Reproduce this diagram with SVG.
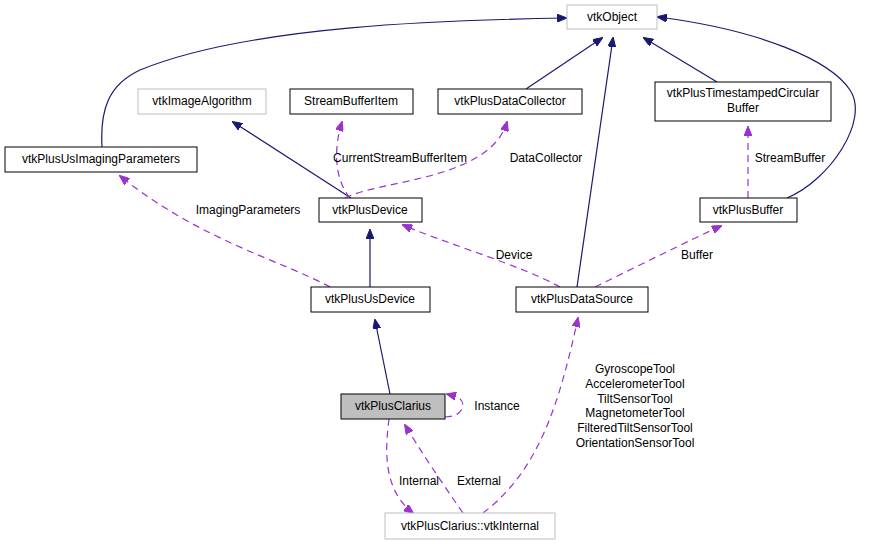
<svg xmlns="http://www.w3.org/2000/svg" width="873" height="545" viewBox="0 0 873 545">
<defs>
<marker id="an" markerWidth="10" markerHeight="8" refX="9" refY="4" orient="auto" markerUnits="userSpaceOnUse"><path d="M0,0L10,4L0,8z" fill="#191970" stroke="#191970"/></marker>
<marker id="ap" markerWidth="10" markerHeight="8" refX="9" refY="4" orient="auto" markerUnits="userSpaceOnUse"><path d="M0,0L10,4L0,8z" fill="#9a32cd" stroke="#9a32cd"/></marker>
</defs>
<style>
text{font-family:"Liberation Sans",Arial,sans-serif;font-size:12px;text-anchor:middle;fill:#000}
.n rect{fill:#fff;stroke:#000;stroke-width:1}
.g rect{fill:#fff;stroke:#bfbfbf;stroke-width:1}
.i{fill:none;stroke:#191970;stroke-width:1.2;marker-end:url(#an)}
.u{fill:none;stroke:#9a32cd;stroke-width:1.2;stroke-dasharray:7,5;marker-end:url(#ap)}
</style>
<rect width="873" height="545" fill="#fff"/>
<g id="connectors">
<path class="i" d="M102,147C100,110 108,85 140,70C250,25 450,20 566,18"/>
<path class="i" d="M351,198L233,122"/>
<path class="u" d="M350,198C335,180 333,150 342,122"/>
<path class="u" d="M345,198C380,180 490,180 507,122"/>
<path class="i" d="M526,89L602,38"/>
<path class="i" d="M717,82L644,38"/>
<path class="i" d="M577,287L613,38"/>
<path class="i" d="M787,198C830,180 870,120 850,90C830,60 760,30 658,17"/>
<path class="u" d="M748,198L748,127"/>
<path class="i" d="M370,287L370,230"/>
<path class="u" d="M330,287C280,260 200,240 120,176"/>
<path class="u" d="M560,287C520,265 450,245 403,225"/>
<path class="u" d="M595,287C640,265 690,240 721,226"/>
<path class="i" d="M390,394L375,320"/>
<path class="u" d="M445,417C465,417 468,400 455,396L447,394"/>
<path class="u" d="M389,419C385,450 383,490 413,513"/>
<path class="u" d="M463,513C440,480 420,450 405,425"/>
<path class="u" d="M483,513C540,470 560,400 578,318"/>
</g>
<g id="vtkObject" class="g"><rect x="567" y="5" width="90" height="24"/><text x="612" y="21">vtkObject</text></g>
<g id="vtkImageAlgorithm" class="g"><rect x="138" y="89" width="128" height="25"/><text x="202" y="105">vtkImageAlgorithm</text></g>
<g id="StreamBufferItem" class="n"><rect x="290" y="89" width="123" height="25"/><text x="351" y="105">StreamBufferItem</text></g>
<g id="vtkPlusDataCollector" class="n"><rect x="438" y="89" width="144" height="25"/><text x="510" y="105">vtkPlusDataCollector</text></g>
<g id="vtkPlusTimestampedCircularBuffer" class="n"><rect x="655" y="82" width="176" height="39"/><text x="743" y="97">vtkPlusTimestampedCircular</text><text x="743" y="112">Buffer</text></g>
<g id="vtkPlusUsImagingParameters" class="n"><rect x="5" y="147" width="192" height="25"/><text x="101" y="163">vtkPlusUsImagingParameters</text></g>
<g id="vtkPlusDevice" class="n"><rect x="319" y="198" width="103" height="24"/><text x="370" y="214">vtkPlusDevice</text></g>
<g id="vtkPlusBuffer" class="n"><rect x="700" y="198" width="97" height="24"/><text x="748" y="214">vtkPlusBuffer</text></g>
<g id="vtkPlusUsDevice" class="n"><rect x="311" y="287" width="119" height="25"/><text x="370" y="303">vtkPlusUsDevice</text></g>
<g id="vtkPlusDataSource" class="n"><rect x="516" y="287" width="132" height="25"/><text x="582" y="303">vtkPlusDataSource</text></g>
<g id="vtkPlusClarius"><rect x="341" y="394" width="104" height="25" fill="#bfbfbf" stroke="#000"/><text x="393" y="410">vtkPlusClarius</text></g>
<g id="vtkInternal" class="g"><rect x="385" y="513" width="170" height="26"/><text x="470" y="530">vtkPlusClarius::vtkInternal</text></g>
<g id="labels">
<text x="400" y="162">CurrentStreamBufferItem</text>
<text x="546" y="162">DataCollector</text>
<text x="790" y="162">StreamBuffer</text>
<text x="248" y="214">ImagingParameters</text>
<text x="514" y="259">Device</text>
<text x="697" y="259">Buffer</text>
<text x="635" y="373">GyroscopeTool</text>
<text x="635" y="388">AccelerometerTool</text>
<text x="635" y="403">TiltSensorTool</text>
<text x="635" y="417">MagnetometerTool</text>
<text x="635" y="432">FilteredTiltSensorTool</text>
<text x="635" y="447">OrientationSensorTool</text>
<text x="497" y="410">Instance</text>
<text x="419" y="485">Internal</text>
<text x="479" y="485">External</text>
</g>
</svg>
